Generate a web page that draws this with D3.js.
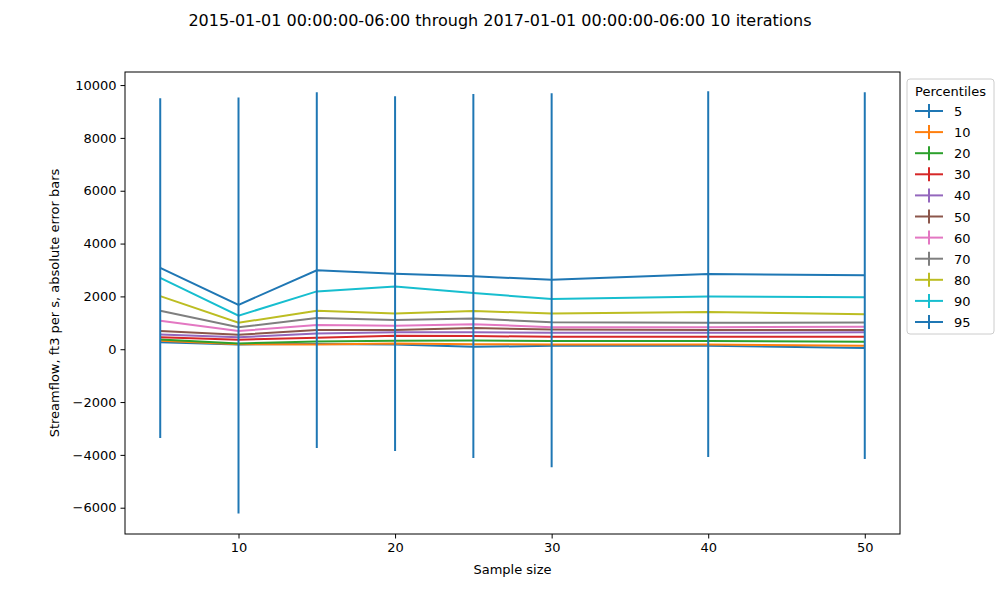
<!DOCTYPE html>
<html><head><meta charset="utf-8">
<script src="https://cdn.jsdelivr.net/npm/d3@7"></script>
<style>body{margin:0;background:#fff}text{font-family:"DejaVu Sans",sans-serif}</style>
</head><body><script>
const sizes = [5, 10, 15, 20, 25, 30, 40, 50];
const percentiles = [5, 10, 20, 30, 40, 50, 60, 70, 80, 90, 95];
const values = [
  [260, 180, 200, 180, 90, 130, 130, 50],
  [320, 190, 180, 220, 190, 180, 180, 130],
  [370, 220, 290, 320, 330, 310, 310, 280],
  [450, 360, 430, 510, 500, 470, 470, 470],
  [560, 450, 600, 640, 640, 620, 620, 640],
  [690, 550, 730, 730, 800, 750, 730, 730],
  [1080, 690, 920, 890, 950, 830, 830, 850],
  [1460, 830, 1180, 1110, 1160, 1020, 1000, 1010],
  [2010, 1000, 1460, 1350, 1450, 1350, 1410, 1320],
  [2700, 1270, 2190, 2370, 2130, 1900, 2000, 1970],
  [3080, 1680, 2990, 2860, 2760, 2630, 2850, 2800]
];
// absolute error bar ends for the 95th percentile (the others sit under it)
const errLow = [-3360, -6220, -3740, -3850, -4120, -4470, -4080, -4160];
const errHigh = [9500, 9530, 9730, 9580, 9660, 9690, 9770, 9730];
const colors = ['#1f77b4','#ff7f0e','#2ca02c','#d62728','#9467bd','#8c564b','#e377c2','#7f7f7f','#bcbd22','#17becf','#1f77b4'];

const svg = d3.select('body').append('svg').attr('width', 1000).attr('height', 600);
const L = 125, R = 900, T = 72, B = 534;
const x = d3.scaleLinear().domain([2.75, 52.25]).range([L, R]);
const y = d3.scaleLinear().domain([-6995, 10495]).range([B, T]);

svg.append('g').attr('transform', `translate(0,${B})`)
  .call(d3.axisBottom(x).tickValues([10, 20, 30, 40, 50]).tickSizeOuter(0).tickSize(4.5).tickPadding(4));
svg.append('g').attr('transform', `translate(${L},0)`)
  .call(d3.axisLeft(y).tickValues(d3.range(-6000, 10001, 2000)).tickFormat(d => d < 0 ? '\u2212' + (-d) : d).tickSizeOuter(0).tickSize(4.5).tickPadding(4));
svg.selectAll('.tick text').attr('font-size', 13).attr('fill', '#000').style('font-family', 'DejaVu Sans');
svg.selectAll('.domain').remove();

const line = d3.line().x((d, i) => x(sizes[i])).y(d => y(d));
values.forEach((s, k) => {
  svg.append('path').attr('d', line(s)).attr('fill', 'none').attr('stroke', colors[k]).attr('stroke-width', 2);
});
svg.selectAll('.err').data(sizes).join('line')
  .attr('x1', d => x(d)).attr('x2', d => x(d))
  .attr('y1', (d, i) => y(errLow[i])).attr('y2', (d, i) => y(errHigh[i]))
  .attr('stroke', colors[10]).attr('stroke-width', 2);

svg.append('rect').attr('x', L).attr('y', T).attr('width', R - L).attr('height', B - T)
  .attr('fill', 'none').attr('stroke', '#000').attr('stroke-width', 1);

svg.append('text').attr('x', 500).attr('y', 26).attr('text-anchor', 'middle').attr('font-size', 16)
  .text('2015-01-01 00:00:00-06:00 through 2017-01-01 00:00:00-06:00 10 iterations');
svg.append('text').attr('x', (L + R) / 2).attr('y', 574).attr('text-anchor', 'middle').attr('font-size', 13).text('Sample size');
svg.append('text').attr('transform', `translate(59,${(T + B) / 2}) rotate(-90)`).attr('text-anchor', 'middle')
  .attr('font-size', 13).text('Streamflow, ft3 per s, absolute error bars');

const lg = svg.append('g').attr('transform', 'translate(907,79)');
lg.append('rect').attr('width', 87).attr('height', 255).attr('rx', 3).attr('fill', '#fff').attr('stroke', '#ccc');
lg.append('text').attr('x', 43.5).attr('y', 17).attr('text-anchor', 'middle').attr('font-size', 13).text('Percentiles');
percentiles.forEach((p, k) => {
  const yy = 32 + k * 21.1;
  lg.append('line').attr('x1', 8).attr('x2', 36).attr('y1', yy).attr('y2', yy).attr('stroke', colors[k]).attr('stroke-width', 2);
  lg.append('line').attr('x1', 22).attr('x2', 22).attr('y1', yy - 7).attr('y2', yy + 7).attr('stroke', colors[k]).attr('stroke-width', 2);
  lg.append('text').attr('x', 47).attr('y', yy + 5).attr('font-size', 13).text(p);
});
</script></body></html>
